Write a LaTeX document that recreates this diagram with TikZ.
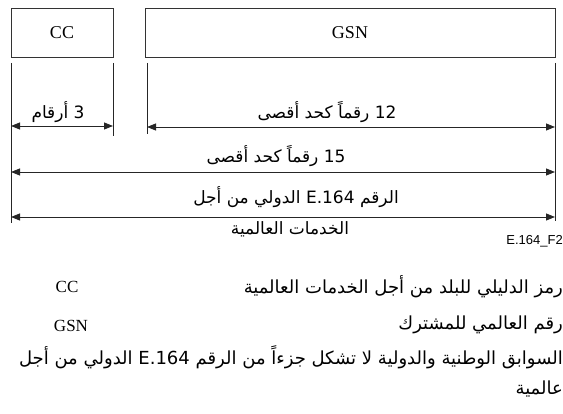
\documentclass[tikz,border=0pt]{standalone}
\usepackage{fontspec}
\setmainfont{Liberation Serif}
\newfontfamily\arabicfont[Script=Arabic]{DejaVu Sans}
\newfontfamily\figfont{Liberation Sans}
\TeXXeTstate=1
\usetikzlibrary{arrows.meta,positioning,calc}

\begin{document}
\begin{tikzpicture}[x=1pt,y=-1pt,
  field/.style={draw=black!80, line width=0.9pt, minimum height=49pt, inner sep=0pt, font=\fontsize{18}{20}\selectfont},
  tick/.style={draw=black!85, line width=0.9pt},
  span/.style={tick, {Triangle[length=9pt,width=7pt]}-{Triangle[length=9pt,width=7pt]}},
  ar/.style={font=\arabicfont\fontsize{17}{19}\selectfont, inner sep=0pt},
  legend/.style={font=\arabicfont\fontsize{18}{20}\selectfont, inner sep=0pt, anchor=east},
  key/.style={font=\fontsize{17}{19}\selectfont, inner sep=0pt}]
  \useasboundingbox (0,0) rectangle (563,414);

  % fields of the number
  \node (cc) [field, minimum width=102pt] at (62,32.5) {CC};
  \node (gsn) [field, minimum width=410pt] at (350,32.5) {GSN};

  % extension lines
  \coordinate (l0) at (11,63);  \coordinate (l1) at (11,223);
  \coordinate (a0) at (113,63); \coordinate (a1) at (113,136);
  \coordinate (b0) at (147,63); \coordinate (b1) at (147,134);
  \coordinate (r0) at (555,63); \coordinate (r1) at (555,221);
  \path [tick] (l0) edge (l1) (a0) edge (a1) (b0) edge (b1) (r0) edge (r1);

  % dimension arrows
  \coordinate (ccl) at (11,126);  \coordinate (ccr) at (113,126);
  \coordinate (gsnl) at (147,127); \coordinate (gsnr) at (555,127);
  \coordinate (maxl) at (11,172); \coordinate (maxr) at (555,172);
  \coordinate (intl) at (11,217); \coordinate (intr) at (555,217);
  \draw [span] (ccl) -- (ccr);
  \draw [span] (gsnl) -- (gsnr);
  \draw [span] (maxl) -- (maxr);
  \draw [span] (intl) -- (intr);

  \node (three) [ar] at (58,112) {\beginR 3 أرقام\endR};
  \node (twelve) [ar] at (327,112) {\beginR 12 رقماً كحد أقصى\endR};
  \node (fifteen) [ar] at (276,156) {\beginR 15 رقماً كحد أقصى\endR};
  \node (e164) [ar] at (296,197) {\beginR الرقم E.164 الدولي من أجل\endR};
  \node (global) [ar] at (290,229) {\beginR الخدمات العالمية\endR};
  \node (fig) [font=\figfont\fontsize{13}{15}\selectfont, inner sep=0pt, anchor=east] at (563,241) {E.164\_F2};

  % legend
  \node (cckey) [key] at (67,287) {CC};
  \node (gsnkey) [key] at (71,326) {GSN};
  \node (ccdef) [legend] at (563,287) {\beginR رمز الدليلي للبلد من أجل الخدمات العالمية\endR};
  \node (gsndef) [legend] at (563,325) {\beginR رقم العالمي للمشترك\endR};
  \node (note) [legend] at (563,357) {\beginR السوابق الوطنية والدولية لا تشكل جزءاً من الرقم E.164 الدولي من أجل\endR};
  \node (notecont) [legend] at (563,389) {\beginR عالمية\endR};
\end{tikzpicture}
\end{document}
